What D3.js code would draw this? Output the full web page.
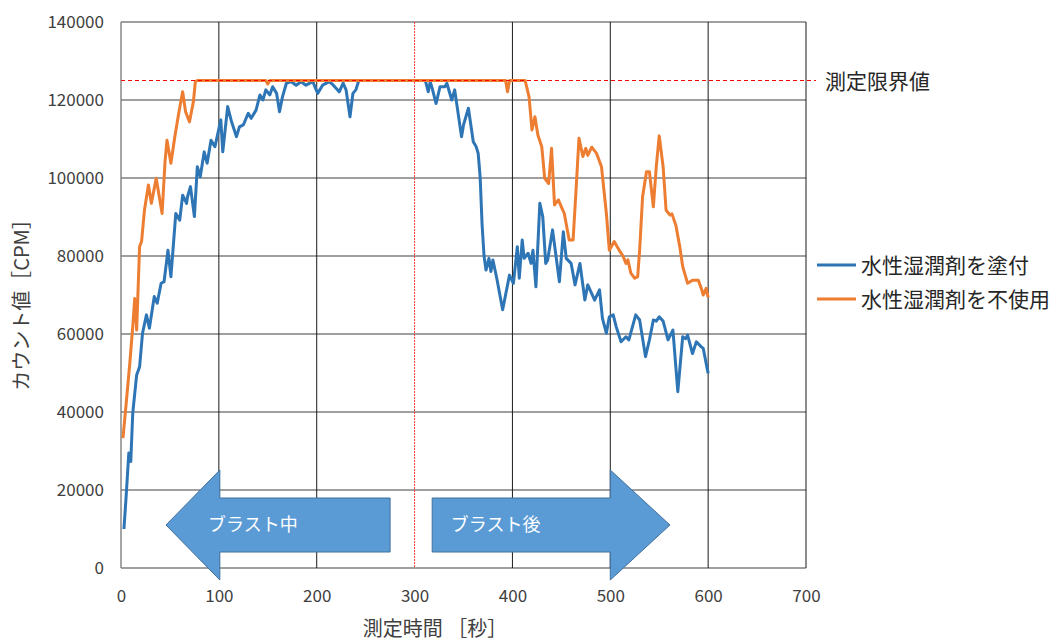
<!DOCTYPE html>
<html>
<head>
<meta charset="utf-8">
<script src="https://cdn.jsdelivr.net/npm/d3@7"></script>
<style>
  body { margin: 0; background: #fff; }
  text { font-family: "Noto Sans CJK JP", "Noto Sans", sans-serif; fill: #404040; }
</style>
</head>
<body>
<div id="chart"></div>
<script>
// chart size
const c_width = 1054;
const c_height = 641;

// data (time in seconds, counts in CPM)
const blueTimes = [3, 5, 8, 10, 12, 16, 19, 22, 26, 29, 34, 37, 41, 44, 48, 51, 56, 60, 63, 67, 68, 71, 75, 78, 81, 85, 88, 92, 96, 102, 104, 109, 113, 118, 121, 125, 130, 133, 138, 142, 145, 148, 152, 155, 159, 162, 165, 169, 174, 179, 184, 189, 196, 201, 206, 213, 217, 223, 227, 230, 234, 237, 240, 243, 311,
  314, 316, 318, 322, 326, 331, 333, 338, 341, 348, 350, 355, 360, 363, 365, 367, 369, 371, 373, 376, 378, 380, 384, 390, 397, 401, 405, 407, 410, 412, 416, 419, 421, 424, 428, 431, 434, 436, 441, 448, 452, 455, 460, 464, 469, 474, 477, 484, 489, 492, 496, 499, 503, 506, 511, 516, 519, 526, 530, 536, 540, 544, 547, 550, 554, 559, 564, 569, 574, 577, 579, 584, 588, 593, 595, 600];
const blueValues = [10000, 17400, 29500, 27300, 39700, 49500, 51600, 60200, 64900, 61500, 69600, 67900, 73000, 73400, 81500, 74700, 90900, 89200, 95600, 93500, 95200, 97800, 90100, 102900, 100300, 106700, 103800, 109700, 108000, 114900, 106700, 118300, 114400, 110600, 113100, 113600, 116600, 115300, 117400, 121300, 120000, 122600, 121300, 123400, 121700, 117000, 120800, 124300, 124700, 123800, 124700, 123800, 124700, 121700, 123800, 124700, 123800, 122100, 124300, 122600, 115700, 121700, 122600, 125000, 125000,
  122100, 124700, 123000, 119100, 123400, 123400, 124300, 120000, 122600, 110600, 113600, 117900, 109300, 108000, 106300, 100300, 88000, 80000, 76400, 79400, 76000, 79000, 74300, 66200, 75100, 73000, 82400, 74300, 84100, 79400, 80700, 78100, 81500, 72100, 93500, 90100, 78100, 79000, 86700, 73400, 86200, 79400, 78100, 72600, 78100, 68700, 72600, 68700, 71300, 64000, 60200, 64400, 64900, 61900, 58000, 59300, 58500, 64900, 63600, 54200, 58500, 63600, 63300, 64400, 63300, 58500, 61000, 45200, 59300, 58800, 59700, 55000, 58000, 56700, 56300, 49900];

const orangeTimes = [2, 5, 9, 12, 14, 16, 19, 21, 24, 28, 31, 36, 42, 45, 47, 51, 55, 59, 63, 66, 70, 74, 76, 78, 148, 150, 152, 393, 395, 397, 413,
  417, 420, 423, 426, 430, 433, 437, 440, 443, 447, 450, 453, 458, 462, 465, 468, 472, 475, 477, 481, 486, 491, 496, 499, 504, 510, 513, 516, 518, 521, 525, 528, 530, 533, 537, 540, 544, 547, 550, 554, 557, 561, 563, 567, 571, 574, 579, 584, 590, 593, 595, 598, 600];
const orangeValues = [33300, 41400, 52500, 61900, 69100, 61000, 82400, 83700, 91800, 98200, 93500, 99900, 90900, 104200, 109700, 103800, 110600, 116600, 122100, 117000, 114400, 119600, 124700, 125000, 125000, 124100, 125000, 125000, 122100, 125000, 125000,
  120800, 112300, 115700, 111000, 108000, 99900, 98600, 107600, 93100, 94400, 92600, 90900, 84100, 84100, 96900, 110200, 105500, 107600, 105800, 107900, 106300, 102900, 90900, 81500, 83700, 81100, 80000, 78100, 79000, 75600, 74300, 74700, 81500, 95200, 101600, 101600, 92600, 102900, 110800, 102900, 91800, 90500, 90800, 87900, 82400, 77300, 73000, 73800, 73800, 71700, 70000, 71700, 69400];

const seriesNames = ["水性湿潤剤を塗付", "水性湿潤剤を不使用"];
const seriesColors = ["#2e75b6", "#ed7d31"];
const xTicks = [0, 100, 200, 300, 400, 500, 600, 700];
const yTicks = [0, 20000, 40000, 60000, 80000, 100000, 120000, 140000];
const limitValue = 125000;
const limitLabel = "測定限界値";
const blastTime = 300;
const arrowLabels = ["ブラスト中", "ブラスト後"];

// plot box
const plotLeft = 121, plotRight = 806, plotTop = 22, plotBottom = 568;

const svg = d3.select("#chart")
  .append("svg")
  .attr("width", c_width)
  .attr("height", c_height);

const xScale = d3.scaleLinear().domain([0, 700]).range([plotLeft, plotRight]);
const yScale = d3.scaleLinear().domain([0, 140000]).range([plotBottom, plotTop]);

// horizontal grid
svg.append("g")
  .selectAll("line")
  .data(yTicks)
  .enter()
  .append("line")
  .attr("x1", plotLeft).attr("x2", plotRight)
  .attr("y1", d => yScale(d)).attr("y2", d => yScale(d))
  .attr("stroke", "#7f7f7f")
  .attr("stroke-width", 1.4);

// vertical grid
svg.append("g")
  .selectAll("line")
  .data(xTicks.filter(d => d !== 300))
  .enter()
  .append("line")
  .attr("x1", d => xScale(d)).attr("x2", d => xScale(d))
  .attr("y1", plotTop).attr("y2", plotBottom)
  .attr("stroke", d => d === 0 ? "#7f7f7f" : "#1a1a1a")
  .attr("stroke-width", d => d === 0 ? 1.4 : 1);

// blast boundary line
svg.append("line")
  .attr("x1", xScale(blastTime)).attr("x2", xScale(blastTime))
  .attr("y1", plotTop).attr("y2", plotBottom)
  .attr("stroke", "#ff3b3b")
  .attr("stroke-width", 1)
  .attr("stroke-dasharray", "2,1");

// axes (labels only)
const xAxis = d3.axisBottom(xScale).tickValues(xTicks).tickSize(0).tickPadding(22);
const yAxis = d3.axisLeft(yScale).tickValues(yTicks).tickSize(0).tickPadding(17).tickFormat(d3.format("d"));

svg.append("g")
  .attr("transform", "translate(0," + plotBottom + ")")
  .call(xAxis)
  .call(g => g.select(".domain").remove())
  .selectAll("text")
  .style("font-size", "17px")
  .style("fill", "#404040");

svg.append("g")
  .attr("transform", "translate(" + plotLeft + ",0)")
  .call(yAxis)
  .call(g => g.select(".domain").remove())
  .selectAll("text")
  .style("font-size", "17px")
  .style("fill", "#404040");

// axis titles
svg.append("text")
  .attr("x", 435)
  .attr("y", 636)
  .attr("text-anchor", "middle")
  .style("font-size", "20px")
  .text("測定時間 ［秒］");

svg.append("text")
  .attr("transform", "translate(29," + 300 + ") rotate(-90)")
  .attr("text-anchor", "middle")
  .style("font-size", "20px")
  .text("カウント値［CPM］");

// series lines
const line = d3.line()
  .x(d => xScale(d[0]))
  .y(d => yScale(d[1]));

const blueData = blueTimes.map((t, i) => [t, blueValues[i]]);
const orangeData = orangeTimes.map((t, i) => [t, orangeValues[i]]);

[blueData, orangeData].forEach((data, i) => {
  svg.append("path")
    .datum(data)
    .attr("fill", "none")
    .attr("stroke", seriesColors[i])
    .attr("stroke-width", 3)
    .attr("stroke-linejoin", "round")
    .attr("d", line);
});

// measurement limit
svg.append("line")
  .attr("x1", plotLeft).attr("x2", 816)
  .attr("y1", yScale(limitValue)).attr("y2", yScale(limitValue))
  .attr("stroke", "#ff0000")
  .attr("stroke-width", 1)
  .attr("stroke-dasharray", "4,3");

svg.append("text")
  .attr("x", 825)
  .attr("y", yScale(limitValue) + 8)
  .style("font-size", "21px")
  .style("fill", "#262626")
  .text(limitLabel);

// legend
const legend = svg.append("g");
seriesNames.forEach((name, i) => {
  const ly = 265 + i * 34;
  legend.append("line")
    .attr("x1", 817).attr("x2", 856)
    .attr("y1", ly).attr("y2", ly)
    .attr("stroke", seriesColors[i])
    .attr("stroke-width", 3);
  legend.append("text")
    .attr("x", 861)
    .attr("y", ly + 8)
    .style("font-size", "21px")
    .style("fill", "#262626")
    .text(name);
});

// block arrows
const yMid = 525, bodyHalf = 27, headHalf = 55;
const leftArrow = [
  [xScale(46), yMid],
  [xScale(101), yMid - headHalf],
  [xScale(101), yMid - bodyHalf],
  [xScale(275), yMid - bodyHalf],
  [xScale(275), yMid + bodyHalf],
  [xScale(101), yMid + bodyHalf],
  [xScale(101), yMid + headHalf]
];
const rightArrow = [
  [xScale(318), yMid - bodyHalf],
  [xScale(500), yMid - bodyHalf],
  [xScale(500), yMid - headHalf],
  [xScale(561), yMid],
  [xScale(500), yMid + headHalf],
  [xScale(500), yMid + bodyHalf],
  [xScale(318), yMid + bodyHalf]
];
[leftArrow, rightArrow].forEach((pts, i) => {
  svg.append("polygon")
    .attr("points", pts.map(p => p.join(",")).join(" "))
    .attr("fill", "#5b9bd5")
    .attr("stroke", "#41719c")
    .attr("stroke-width", 1);
  svg.append("text")
    .attr("x", i === 0 ? xScale(89) : xScale(337))
    .attr("y", yMid + 6)
    .style("font-size", "18px")
    .style("fill", "#ffffff")
    .text(arrowLabels[i]);
});
</script>
</body>
</html>
